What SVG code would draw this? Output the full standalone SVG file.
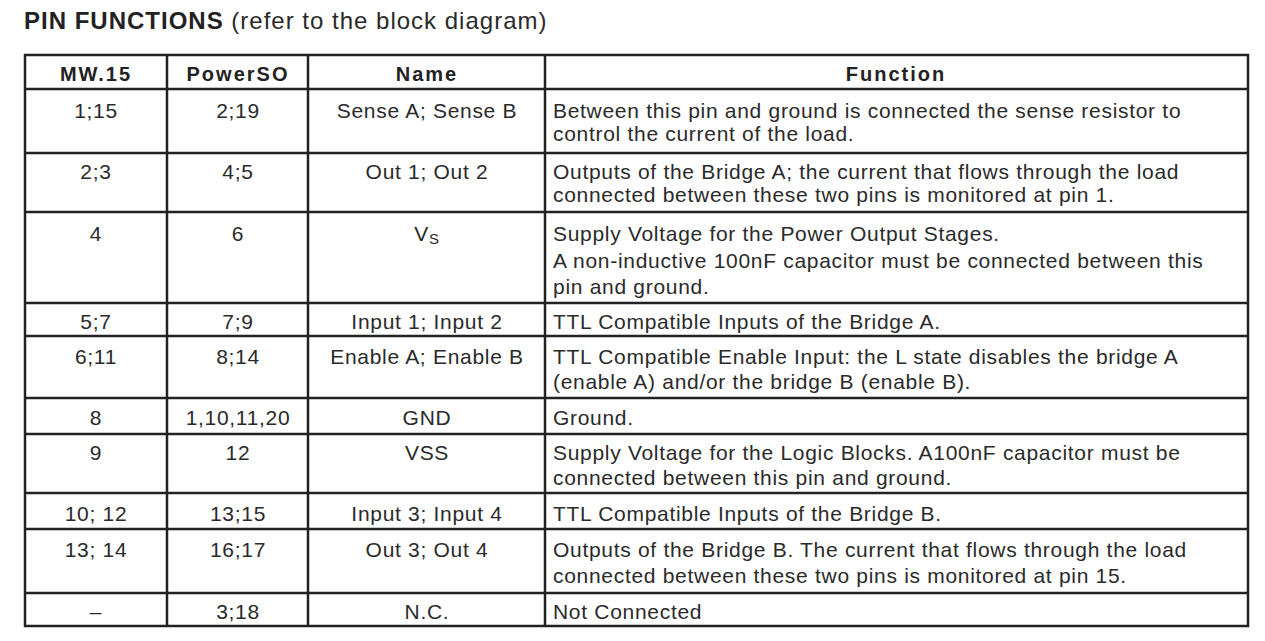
<svg xmlns="http://www.w3.org/2000/svg" width="1265" height="641" viewBox="0 0 1265 641">
<style>
text{font-family:"Liberation Sans",Arial,sans-serif;font-size:21px;letter-spacing:0.7px;fill:#2a2a2a}
.h{font-weight:bold;font-size:20px;letter-spacing:2px;fill:#222}
.c{text-anchor:middle}
line{stroke:#222;stroke-width:2.5}
</style>
<rect width="1265" height="641" fill="#fff"/>
<text x="24" y="29" style="font-size:24px;letter-spacing:1px"><tspan font-weight="bold" fill="#222">PIN FUNCTIONS</tspan> (refer to the block diagram)</text>
<g id="grid">
<rect x="25" y="55" width="1223" height="571" fill="none" stroke="#222" stroke-width="2.5"/>
<line x1="167" y1="55" x2="167" y2="626"/><line x1="308" y1="55" x2="308" y2="626"/><line x1="545" y1="55" x2="545" y2="626"/>
<line x1="25" y1="89" x2="1248" y2="89"/><line x1="25" y1="153" x2="1248" y2="153"/><line x1="25" y1="212" x2="1248" y2="212"/>
<line x1="25" y1="303" x2="1248" y2="303"/><line x1="25" y1="336" x2="1248" y2="336"/><line x1="25" y1="398" x2="1248" y2="398"/>
<line x1="25" y1="434" x2="1248" y2="434"/><line x1="25" y1="493" x2="1248" y2="493"/><line x1="25" y1="529" x2="1248" y2="529"/>
<line x1="25" y1="593" x2="1248" y2="593"/>
</g>
<g id="header">
<text class="c h" x="96" y="81">MW.15</text><text class="c h" x="238" y="81">PowerSO</text><text class="c h" x="427" y="81">Name</text><text class="c h" x="896" y="81">Function</text>
</g>
<g id="r1"><text class="c" x="96" y="118">1;15</text><text class="c" x="238" y="118">2;19</text><text class="c" x="427" y="118">Sense A; Sense B</text>
<text x="553" y="118">Between this pin and ground is connected the sense resistor to</text><text x="553" y="141">control the current of the load.</text></g>
<g id="r2"><text class="c" x="96" y="179">2;3</text><text class="c" x="238" y="179">4;5</text><text class="c" x="427" y="179">Out 1; Out 2</text>
<text x="553" y="179">Outputs of the Bridge A; the current that flows through the load</text><text x="553" y="202">connected between these two pins is monitored at pin 1.</text></g>
<g id="r3"><text class="c" x="96" y="241">4</text><text class="c" x="238" y="241">6</text><text class="c" x="427" y="241">V<tspan font-size="15" dy="3">S</tspan></text>
<text x="553" y="241">Supply Voltage for the Power Output Stages.</text><text x="553" y="268">A non-inductive 100nF capacitor must be connected between this</text><text x="553" y="294">pin and ground.</text></g>
<g id="r4"><text class="c" x="96" y="329">5;7</text><text class="c" x="238" y="329">7;9</text><text class="c" x="427" y="329">Input 1; Input 2</text>
<text x="553" y="329">TTL Compatible Inputs of the Bridge A.</text></g>
<g id="r5"><text class="c" x="96" y="364">6;11</text><text class="c" x="238" y="364">8;14</text><text class="c" x="427" y="364">Enable A; Enable B</text>
<text x="553" y="364">TTL Compatible Enable Input: the L state disables the bridge A</text><text x="553" y="389">(enable A) and/or the bridge B (enable B).</text></g>
<g id="r6"><text class="c" x="96" y="425">8</text><text class="c" x="238" y="425">1,10,11,20</text><text class="c" x="427" y="425">GND</text>
<text x="553" y="425">Ground.</text></g>
<g id="r7"><text class="c" x="96" y="460">9</text><text class="c" x="238" y="460">12</text><text class="c" x="427" y="460">VSS</text>
<text x="553" y="460">Supply Voltage for the Logic Blocks. A100nF capacitor must be</text><text x="553" y="485">connected between this pin and ground.</text></g>
<g id="r8"><text class="c" x="96" y="521">10; 12</text><text class="c" x="238" y="521">13;15</text><text class="c" x="427" y="521">Input 3; Input 4</text>
<text x="553" y="521">TTL Compatible Inputs of the Bridge B.</text></g>
<g id="r9"><text class="c" x="96" y="557">13; 14</text><text class="c" x="238" y="557">16;17</text><text class="c" x="427" y="557">Out 3; Out 4</text>
<text x="553" y="557">Outputs of the Bridge B. The current that flows through the load</text><text x="553" y="583">connected between these two pins is monitored at pin 15.</text></g>
<g id="r10"><text class="c" x="96" y="619">–</text><text class="c" x="238" y="619">3;18</text><text class="c" x="427" y="619">N.C.</text>
<text x="553" y="619">Not Connected</text></g>
</svg>
